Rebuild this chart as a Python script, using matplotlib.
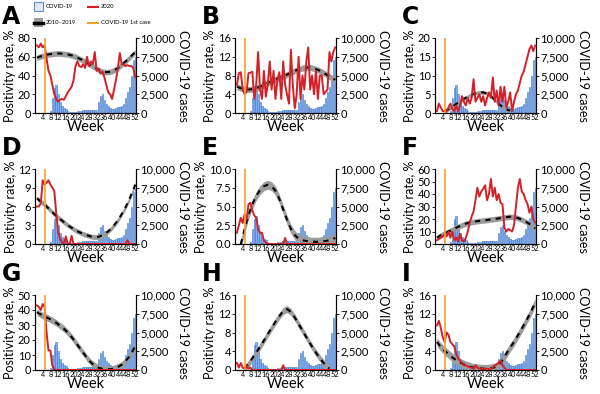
import numpy as np
import matplotlib
matplotlib.use("Agg")
import matplotlib.pyplot as plt
from matplotlib.patches import Rectangle
from matplotlib.lines import Line2D
from matplotlib.ticker import FuncFormatter

plt.rcParams['font.family'] = ['Lato', 'DejaVu Sans']

weeks = list(range(1, 53))
base_weeks = list(range(1, 52, 2)) + [52]
first_case_week = 5.2

# weekly COVID-19 cases (same in every panel)
cases = [0, 0, 0, 0, 0, 0, 0, 300, 2000, 3400, 3700, 2500, 1500, 1000, 700, 500,
         300, 200, 150, 150, 200, 250, 300, 300, 350, 400, 400, 400, 400, 350, 350, 400,
         1500, 2300, 2500, 1800, 1200, 900, 700, 600, 600, 700, 800, 800, 900, 1200,
         2000, 2800, 3500, 5000, 7000, 7500]

nan = np.nan
panels = ['A', 'B', 'C', 'D', 'E', 'F', 'G', 'H', 'I']
ymax = [80, 16, 20, 12, 10, 60, 50, 16, 16]
ystep = [20, 4, 5, 3, 2.5, 10, 10, 4, 4]
band = [3.0, 0.65, 0.5, 0.4, 0.6, 2.2, 2.2, 0.75, 0.9]

rate_2020 = {
    'A': [72, 70, 74, 70, 72, 58, 45, 40, 30, 20, 15, 12, 14, 15, 14, 18, 22, 25, 28, 35,
          50, 55, 50, 49, 52, 48, 60, 50, 55, 52, 65, 45, 47, 42, 44, 38, 30, 22, 20, 15,
          25, 35, 48, 64, 52, 52, 50, 51, 50, 50, 48, 38],
    'B': [6, 8.5, 8.7, 5, 4, 4.5, 8.5, 8.6, 8.8, 3, 6, 13, 5, 3, 9, 3.5, 6, 11, 5, 9,
          3, 7, 8.7, 3, 11, 6, 4, 2, 13.5, 6, 1, 4, 12, 3, 8, 5, 11, 14, 5, 8,
          4, 9, 3, 8, 8, 4, 4.5, 5, 13, 11, 13, 14],
    'C': [0.5, 2.5, 1.5, 0.5, 0.5, 0.3, 1.5, 2.5, 1, 0.5, 2, 0.5, 2, 4.5, 3, 2, 4, 2.5, 4, 9,
          3, 4, 5, 3, 4.5, 2, 4, 5.5, 4, 9.5, 3, 6, 2, 7, 3, 7, 1.5, 3, 5.5, 0.5,
          3, 5, 6, 8, 10, 11, 13, 15, 17, 18, 16.5, 18],
    'D': [6, 6, 6.5, 10.2, 9.5, 9.8, 10.2, 9.5, 9, 8.5, 5, 2, 0.8, 0.3, 0, 1.2, 0, 0, 1.3, 0,
          0, 0, 0, 0, 0, 0, 0, 0, 0, 0, 0, 0, 0, 0, 0, 0, 0, 0, 0, 0,
          0, 0, 0, 0, 0, 0, 0, 0.6, 0, 0, 0, 0],
    'E': [1.5, 2.5, 3.5, 2.8, 4, 3.2, 5.3, 5.5, 4.5, 3.8, 3.5, 2, 1.5, 1.5, 0.5, 0.2, 0, 0, 0, 0,
          0, 0, 0, 0, 0, 0.8, 0, 0, 0, 0, 0, 0, 0, 0, 0, 0, 0, 0, 0, 0,
          0, 0, 0, 0, 0, 0, 0, 0, 0, 0, 0, 0],
    'F': [3, 4, 5, 6, 8, 6, 10, 5, 10, 3, 5, 2, 8, 3, 2, 5, 10, 17, 22, 26,
          35, 45, 38, 42, 44, 47, 35, 40, 52, 38, 45, 35, 40, 33, 32, 13, 10, 12, 11, 10,
          15, 30, 45, 52, 42, 40, 35, 32, 25, 30, 20, 17],
    'G': [43, 42, 40, 44, 42, 25, 13, 13, 3, 0.5, 0, 0, 0, 0, 0, 0, 0, 0, 0, 0,
          0, 0, 0, 0, 0, 0, 0, 0, 0, 0, 0, 0, 0, 0, 0, 0, 0, 0, 0, 0,
          0, 0, 0, 0, 0, 0, 0, 0, 0, 0, 0, 0],
    'H': [1.5, 0.5, 1.5, 0.5, 0.3, 1, 0.3, 0.5, 0, 0, 0, 0, 0, 0, 0, 0, 0, 0, 0, 0,
          0, 0, 0, 0, 1, 0, 0, 0, 0, 0, 0, 0, 0, 0, 0, 0, 0, 0, 0, 0,
          0, 0, 0, 0, 0, 0, 0, 0, 0, 0, 0, 0],
    'I': [9.5, 10.5, 9, 7, 6, 8, 7.5, 6, 5.5, 5, 3.5, 2.5, 2, 1.5, 1, 1, 0.8, 0.6, 0.5, 0.3,
          1, 0.5, 0.3, 0.2, 0.3, 0.2, 0.3, 0.2, 0.3, 0.5, 1, 1.2, 1.5, 2, 1, 0.5, 0, 0, 0, 0,
          0, 0, 0, 0, 0, 0, 0, 0, 0, 0, 0, 0],
}

# 2010-2019 average (every 2 weeks)
rate_2010_2019 = {
    'A': [59, 60.5, 61.5, 62.5, 63, 63.5, 63.5, 63, 62.5, 61.5, 60, 58, 56, 53.5, 51, 48.5,
          46, 44, 43.5, 44, 45.5, 48, 51.5, 55, 59, 63, 65],
    'B': [5.6, 5.3, 5.1, 5.0, 5.1, 5.3, 5.6, 6.0, 6.4, 6.8, 7.2, 7.5, 7.8, 8.2, 8.6, 9.0,
          9.3, 9.6, 9.7, 9.7, 9.5, 9.2, 8.8, 8.3, 7.8, 7.3, 7.1],
    'C': [nan, nan, 0.5, 1.0, 1.7, 2.4, 3.1, 3.8, 4.4, 4.9, 5.3, 5.5, 5.5, 5.2, 4.5, 3.5,
          2.5, 1.6, 1.0, 0.6, nan, nan, nan, nan, nan, nan, nan],
    'D': [7.3, 6.8, 6.3, 5.7, 5.1, 4.5, 4.0, 3.5, 3.0, 2.6, 2.2, 1.9, 1.6, 1.4, 1.2, 1.1,
          1.15, 1.4, 1.8, 2.3, 3.0, 3.8, 4.8, 5.9, 7.2, 8.7, 9.5],
    'E': [nan, 0.0, 2.0, 3.9, 5.3, 6.4, 7.2, 7.7, 7.9, 7.7, 7.1, 6.0, 4.6, 3.2, 2.0, 1.2,
          0.7, 0.5, 0.4, 0.3, 0.3, 0.3, 0.35, 0.4, 0.5, 0.7, 0.8],
    'F': [5, 7, 8.5, 10, 11.5, 13, 14.5, 15.8, 16.8, 17.5, 18, 18.5, 18.8, 19.2, 19.6, 20,
          20.5, 21, 21.5, 21.8, 21.5, 20.8, 19.5, 18, 16, 13.5, 12.5],
    'G': [38.5, 37, 35.5, 34.5, 33, 31.5, 29.5, 27.5, 25, 22, 18.5, 15, 11.5, 8, 5, 3,
          1.5, 0.8, 0.5, 0.5, 1, 2, 3.5, 6, 9, 13.5, 16],
    'H': [nan, nan, 0.3, 1.3, 2.5, 3.7, 5.0, 6.3, 7.7, 9.0, 10.3, 11.5, 12.6, 13.0, 12.4, 11.2,
          9.8, 8.4, 7.0, 5.6, 4.3, 3.1, 2.0, 1.0, 0.3, nan, nan],
    'I': [6.0, 4.9, 4.1, 3.4, 2.7, 2.1, 1.6, 1.2, 0.9, 0.6, 0.45, 0.35, 0.3, 0.3, 0.4, 0.6,
          1.1, 2.1, 3.5, 4.8, 6.0, 7.4, 8.8, 10.3, 11.8, 13.5, 14.5],
}

RED = '#d42027'
ORANGE = '#f7a12c'
BAR_FACE = '#84ace6'
BAR_EDGE = '#3f78cf'
GRAY = '#9c9c9c'

W, H = 600, 394
fig = plt.figure(figsize=(6, 3.94), dpi=100)

col_x = [35, 235, 435]
row_y = [38, 169, 295]
ax_w, ax_h = 101, 75

for i, p in enumerate(panels):
    r, c = divmod(i, 3)
    x0, y0 = col_x[c], row_y[r]
    ax = fig.add_axes([x0 / W, 1 - (y0 + ax_h) / H, ax_w / W, ax_h / H])
    ax2 = ax.twinx()
    ax.set_zorder(ax2.get_zorder() + 1)
    ax.patch.set_visible(False)

    ax2.bar(weeks, cases, width=0.75, color=BAR_FACE, edgecolor=BAR_EDGE, linewidth=0.4)
    ax2.set_ylim(0, 10000)
    ax2.set_yticks([0, 2500, 5000, 7500, 10000])
    ax2.yaxis.set_major_formatter(FuncFormatter(lambda v, pos: '{:,}'.format(int(v))))
    ax2.tick_params(axis='y', labelsize=8, length=2, width=0.6, pad=1)
    ax2.set_ylabel('COVID-19 cases', rotation=270, fontsize=9, labelpad=10)

    base = np.array(rate_2010_2019[p], dtype=float)
    ax.fill_between(base_weeks, base - band[i], base + band[i], color=GRAY, lw=0, zorder=2)
    ax.plot(base_weeks, base, color='black', lw=1.5, dashes=(2.5, 2.5), zorder=3)
    ax.plot(weeks, rate_2020[p], color=RED, lw=1.4, zorder=4)
    ax.axvline(first_case_week, color=ORANGE, lw=1.2, zorder=5)

    ax.set_xlim(0, 52.4)
    ax.set_ylim(0, ymax[i])
    ax.set_yticks(np.arange(0, ymax[i] + 0.01, ystep[i]))
    if ystep[i] == 2.5:
        ax.yaxis.set_major_formatter(FuncFormatter(lambda v, pos: '%.1f' % v))
    ax.set_xticks(range(4, 53, 4))
    ax.tick_params(axis='x', labelsize=5.2, length=0, pad=1)
    ax.tick_params(axis='y', labelsize=8, length=2, width=0.6, pad=1)
    ax.set_xlabel('Week', fontsize=10.5, labelpad=-1)
    ax.set_ylabel('Positivity rate, %', fontsize=9, labelpad=1)
    for a in (ax, ax2):
        a.spines['top'].set_visible(False)
        for s in ('left', 'right', 'bottom'):
            a.spines[s].set_linewidth(0.8)

    fig.text((x0 - 33) / W, 1 - (y0 - 33) / H, p, fontsize=17, fontweight='bold',
             va='top', ha='left', family='DejaVu Sans')

# legend drawn in pixel coordinates above panel A
lg = fig.add_axes([0, 0, 1, 1])
lg.set_xlim(0, W)
lg.set_ylim(H, 0)
lg.axis('off')
lg.add_patch(Rectangle((34, 2), 9, 9, facecolor='#e4e8ee', edgecolor='#5b8fd8', lw=0.8))
lg.add_patch(Rectangle((34, 18), 9, 9, facecolor=GRAY, edgecolor='none'))
lg.add_line(Line2D([34, 43], [22.5, 22.5], color='black', lw=2.5))
lg.add_line(Line2D([88, 98], [6.5, 6.5], color=RED, lw=1.5))
lg.add_line(Line2D([88, 98], [22.5, 22.5], color=ORANGE, lw=1.5))
lg.text(46, 6.5, 'COVID-19', fontsize=4.2, va='center')
lg.text(46, 22.5, '2010\u20132019', fontsize=4.2, va='center')
lg.text(101, 6.5, '2020', fontsize=4.2, va='center')
lg.text(101, 22.5, 'COVID-19 1st case', fontsize=4.2, va='center')

fig.savefig('out.png', dpi=100)
